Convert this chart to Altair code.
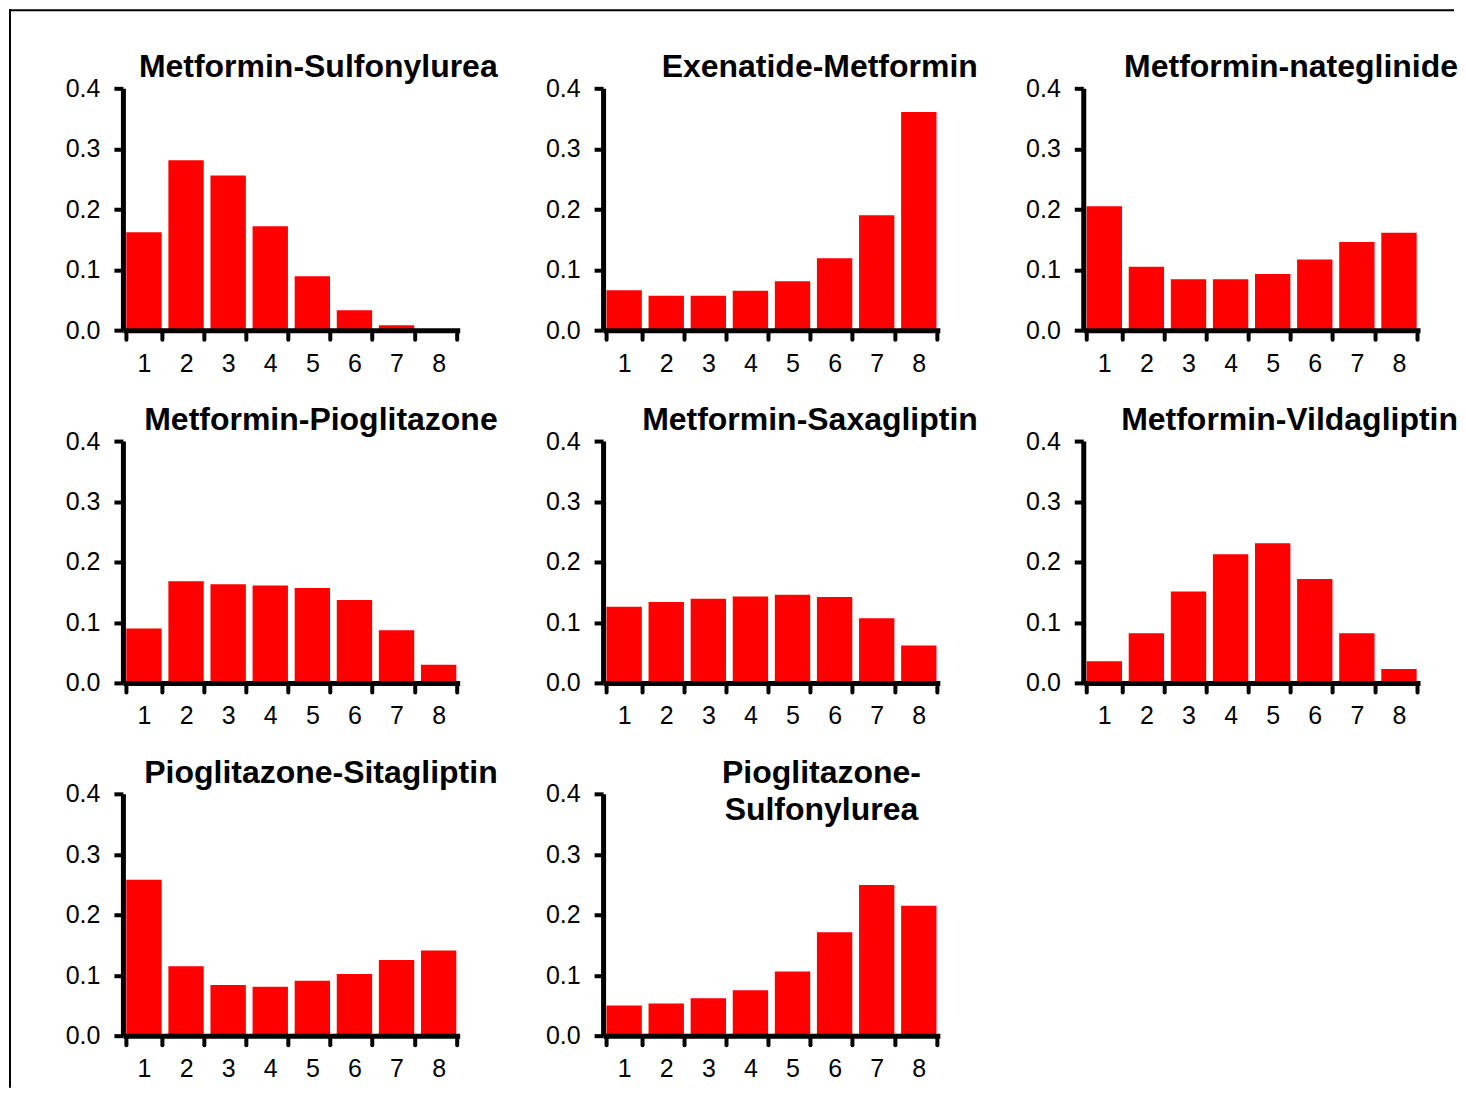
import altair as alt
import pandas as pd

categories = ["1", "2", "3", "4", "5", "6", "7", "8"]

titles = [
    "Metformin-Sulfonylurea",
    "Exenatide-Metformin",
    "Metformin-nateglinide",
    "Metformin-Pioglitazone",
    "Metformin-Saxagliptin",
    "Metformin-Vildagliptin",
    "Pioglitazone-Sitagliptin",
    ["Pioglitazone-", "Sulfonylurea"],
]

met_sulf = [0.162, 0.281, 0.256, 0.172, 0.089, 0.033, 0.008, 0.001]
exe_met = [0.066, 0.057, 0.057, 0.065, 0.081, 0.119, 0.190, 0.361]
met_nat = [0.205, 0.105, 0.084, 0.084, 0.093, 0.117, 0.146, 0.161]
met_pio = [0.090, 0.168, 0.163, 0.161, 0.157, 0.137, 0.087, 0.030]
met_saxa = [0.126, 0.134, 0.139, 0.143, 0.146, 0.142, 0.107, 0.062]
met_vilda = [0.036, 0.082, 0.151, 0.213, 0.231, 0.172, 0.082, 0.023]
pio_sita = [0.258, 0.115, 0.084, 0.081, 0.091, 0.102, 0.125, 0.141]
pio_sulf = [0.050, 0.053, 0.062, 0.075, 0.106, 0.171, 0.249, 0.215]

series = [met_sulf, exe_met, met_nat, met_pio, met_saxa, met_vilda, pio_sita, pio_sulf]
y_ticks = [0.0, 0.1, 0.2, 0.3, 0.4]

FONT = "Liberation Sans"
W, H = 337, 242
TITLE_DY = 33

x_axis = alt.Axis(
    title=None, labelAngle=0, tickBand="extent", labelFont=FONT, labelFontSize=25,
    labelColor="black", labelPadding=12, tickSize=9, tickWidth=4, tickColor="black",
    domainWidth=5, domainColor="black", grid=False, tickCap="round", zindex=1,
)
y_axis = alt.Axis(
    title=None, values=y_ticks, format=".1f", labelFont=FONT, labelFontSize=25,
    labelColor="black", labelPadding=14, tickSize=9, tickWidth=4, tickColor="black",
    domainWidth=5, domainColor="black", grid=False, zindex=1,
)

panels = []
for i, (ttl, vals) in enumerate(zip(titles, series)):
    df = pd.DataFrame({"cat": categories, "value": vals})
    if isinstance(ttl, list):
        tparams = alt.TitleParams(
            text=ttl, anchor="middle", frame="group", dx=50, dy=TITLE_DY + 37,
            font=FONT, fontSize=32, fontWeight="bold", color="black",
            baseline="alphabetic", offset=0, lineHeight=37,
        )
    else:
        tparams = alt.TitleParams(
            text=ttl, anchor="end", frame="group", dx=38, dy=TITLE_DY,
            font=FONT, fontSize=32, fontWeight="bold", color="black",
            baseline="alphabetic", offset=0,
        )
    bars = alt.Chart(df).mark_bar(color="#ff0000").encode(
        x=alt.X("cat:N", sort=categories, axis=x_axis,
                scale=alt.Scale(paddingInner=0.16, paddingOuter=0.08)),
        y=alt.Y("value:Q", axis=y_axis, scale=alt.Scale(domain=[0, 0.4], nice=False, zero=True)),
    ).properties(width=W, height=H, title=tparams)
    panels.append(bars)

# empty ninth cell carries the figure frame (top and left border lines)
frame_df = pd.DataFrame({"k": [0]})
left_line = alt.Chart(frame_df).mark_rule(color="black", strokeWidth=2).encode(
    x=alt.value(-1074), y=alt.value(-785), y2=alt.value(294)
)
top_line = alt.Chart(frame_df).mark_rule(color="black", strokeWidth=2).encode(
    x=alt.value(-1075), x2=alt.value(371), y=alt.value(-784)
)
panels.append(alt.layer(left_line, top_line).properties(width=W, height=H))

chart = alt.concat(
    *panels, columns=3, spacing={"row": 111, "column": 143.5}, bounds="flush"
).properties(
    padding={"left": 0, "top": 0, "right": 0, "bottom": 0}
).configure_view(strokeWidth=0, stroke="transparent")

chart.save("out.html", embed_options={"renderer": "svg", "actions": False})
